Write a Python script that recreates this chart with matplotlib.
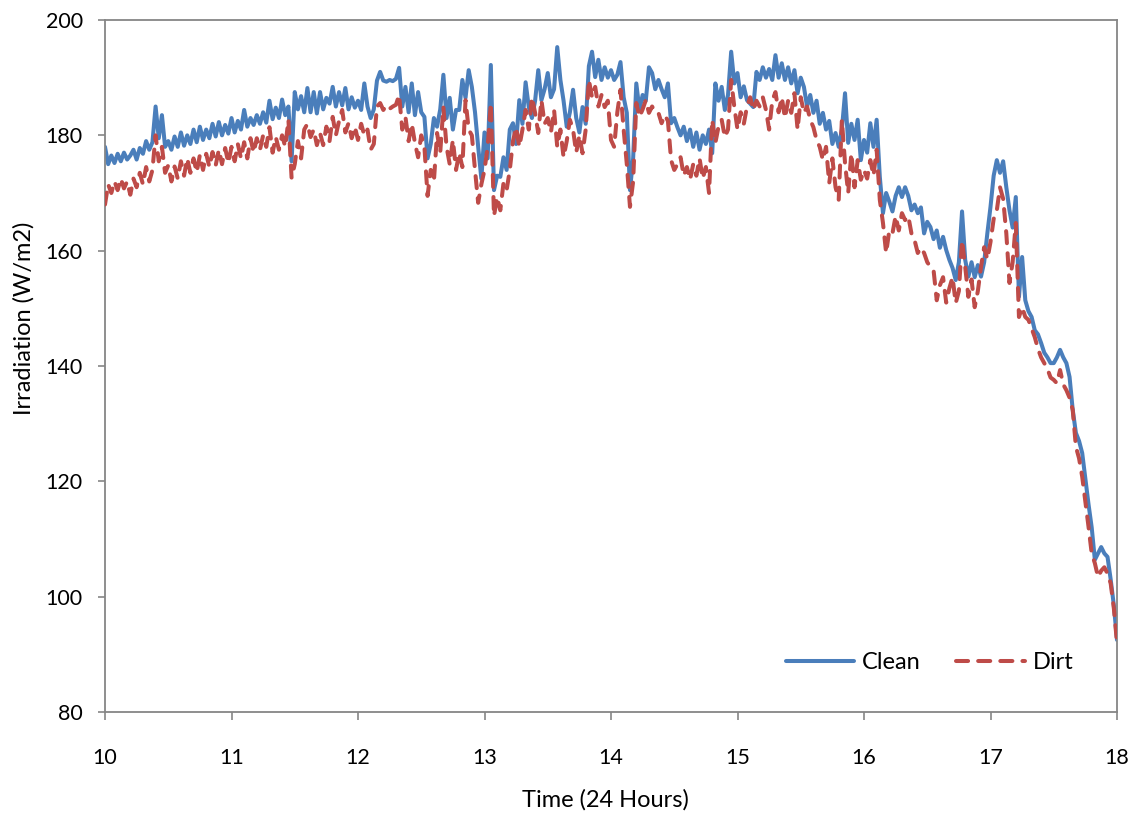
import numpy as np
import matplotlib
matplotlib.use("Agg")
import matplotlib.pyplot as plt

# Clean series: one value every 0.025 h from 10:00 to 18:00 (4 values per 0.1 h row)
clean = [
    178.0, 175.0, 176.5, 175.2,   # 10.0
    176.8, 175.5, 177.0, 175.8,   # 10.1
    176.5, 177.5, 175.8, 177.8,   # 10.2
    176.8, 179.0, 177.5, 178.8,   # 10.3
    185.0, 179.5, 183.5, 178.0,   # 10.4
    179.0, 177.5, 179.8, 178.0,   # 10.5
    180.5, 178.2, 180.0, 178.5,   # 10.6
    181.0, 178.8, 181.5, 179.2,   # 10.7
    181.0, 179.5, 182.0, 179.8,   # 10.8
    182.3, 180.0, 181.8, 180.3,   # 10.9
    183.0, 180.5, 182.5, 181.0,   # 11.0
    184.4, 181.5, 183.0, 181.8,   # 11.1
    183.5, 182.0, 184.0, 182.2,   # 11.2
    186.0, 182.8, 184.8, 183.0,   # 11.3
    186.2, 183.5, 185.0, 175.5,   # 11.4
    187.5, 184.5, 186.8, 184.0,   # 11.5
    188.2, 184.0, 187.5, 183.8,   # 11.6
    187.5, 184.5, 186.5, 185.5,   # 11.7
    188.4, 185.0, 187.5, 185.2,   # 11.8
    188.2, 184.5, 186.6, 184.8,   # 11.9
    186.0, 184.4, 189.0, 185.0,   # 12.0
    183.0, 184.5, 189.5, 191.0,   # 12.1
    189.5, 189.3, 189.6, 189.4,   # 12.2
    189.8, 191.7, 185.0, 188.4,   # 12.3
    184.0, 189.0, 183.5, 187.5,   # 12.4
    184.0, 183.2, 176.0, 178.5,   # 12.5
    183.0, 181.5, 184.5, 190.5,   # 12.6
    183.0, 186.5, 181.0, 184.4,   # 12.7
    184.4, 189.6, 186.5, 191.3,   # 12.8
    188.4, 184.0, 178.0, 172.5,   # 12.9
    180.5, 176.0, 192.2, 170.5,   # 13.0
    173.0, 172.8, 176.2, 174.0,   # 13.1
    181.0, 182.1, 178.5, 186.1,   # 13.2
    182.0, 189.2, 184.9, 183.0,   # 13.3
    186.0, 191.3, 186.1, 188.0,   # 13.4
    190.8, 186.6, 188.0, 195.3,   # 13.5
    189.6, 186.0, 181.5, 184.0,   # 13.6
    187.9, 183.0, 180.5, 184.9,   # 13.7
    182.0, 192.0, 194.5, 190.1,   # 13.8
    193.1, 189.6, 191.8, 190.0,   # 13.9
    191.3, 189.6, 190.5, 192.7,   # 14.0
    186.6, 183.9, 170.5, 176.0,   # 14.1
    189.0, 184.4, 187.0, 186.0,   # 14.2
    191.8, 190.8, 188.0, 189.6,   # 14.3
    188.0, 186.6, 189.0, 182.1,   # 14.4
    183.0, 181.4, 180.0, 181.5,   # 14.5
    179.0, 181.0, 178.0, 180.5,   # 14.6
    177.5, 180.0, 178.5, 181.0,   # 14.7
    176.9, 189.0, 186.0, 188.4,   # 14.8
    184.4, 187.0, 194.5, 189.0,   # 14.9
    190.8, 186.6, 188.5, 186.1,   # 15.0
    185.5, 184.9, 191.0, 189.6,   # 15.1
    191.8, 190.0, 191.5, 189.6,   # 15.2
    193.9, 190.0, 192.5, 189.6,   # 15.3
    191.8, 189.0, 191.3, 187.3,   # 15.4
    190.0, 188.4, 185.0, 187.0,   # 15.5
    183.9, 186.0, 182.0, 183.9,   # 15.6
    181.0, 182.5, 178.5, 180.4,   # 15.7
    178.0, 181.0, 187.3, 178.7,   # 15.8
    182.0, 179.2, 182.7, 175.7,   # 15.9
    179.2, 177.0, 182.1, 178.0,   # 16.0
    182.7, 172.8, 166.5, 170.0,   # 16.1
    168.5, 166.8, 169.5, 171.0,   # 16.2
    169.3, 171.0, 169.5, 167.0,   # 16.3
    168.0, 166.5, 167.5, 163.0,   # 16.4
    165.0, 164.1, 162.0, 163.5,   # 16.5
    160.5, 162.4, 160.1, 158.4,   # 16.6
    157.0, 154.9, 158.0, 166.8,   # 16.7
    158.4, 155.5, 158.0, 155.4,   # 16.8
    157.5, 155.5, 158.0, 163.0,   # 16.9
    167.6, 173.0, 175.7, 173.5,   # 17.0
    175.5, 171.0, 167.0, 164.0,   # 17.1
    169.3, 152.0, 158.9, 151.4,   # 17.2
    149.5, 148.5, 146.2, 145.5,   # 17.3
    144.0, 142.3, 141.5, 140.5,   # 17.4
    140.5, 141.5, 142.8, 141.5,   # 17.5
    140.5, 138.1, 132.4, 128.4,   # 17.6
    127.0, 124.9, 120.5, 116.0,   # 17.7
    112.0, 106.4, 107.5, 108.6,   # 17.8
    107.5, 106.9, 103.0, 98.5,    # 17.9
    92.5,                         # 18.0
]

# Dirt series: same time grid
dirt = [
    168.0, 171.5, 170.0, 172.0,   # 10.0
    170.5, 172.5, 170.8, 172.0,   # 10.1
    169.7, 172.5, 171.0, 173.5,   # 10.2
    171.5, 174.5, 172.0, 174.0,   # 10.3
    180.0, 175.5, 178.0, 173.5,   # 10.4
    174.8, 172.0, 174.6, 172.5,   # 10.5
    175.5, 173.0, 176.0, 173.5,   # 10.6
    176.0, 173.6, 176.6, 174.0,   # 10.7
    176.8, 174.5, 177.1, 174.8,   # 10.8
    177.5, 175.0, 177.8, 175.2,   # 10.9
    178.0, 175.5, 178.5, 176.0,   # 11.0
    178.8, 176.0, 179.5, 177.0,   # 11.1
    179.5, 177.5, 180.0, 178.0,   # 11.2
    181.4, 177.0, 179.7, 177.5,   # 11.3
    180.0, 178.0, 182.7, 172.6,   # 11.4
    175.0, 179.0, 176.0, 181.0,   # 11.5
    182.0, 179.7, 181.0, 178.3,   # 11.6
    180.4, 178.3, 181.5, 179.0,   # 11.7
    183.2, 180.0, 182.5, 184.4,   # 11.8
    180.5, 182.1, 179.5, 181.5,   # 11.9
    179.2, 182.0, 180.0, 181.0,   # 12.0
    177.5, 178.5, 185.0, 185.6,   # 12.1
    184.4, 185.2, 184.6, 185.0,   # 12.2
    185.3, 187.0, 181.0, 183.2,   # 12.3
    179.0, 182.0, 178.7, 176.2,   # 12.4
    180.0, 178.0, 169.5, 174.0,   # 12.5
    172.0, 180.4, 177.0, 184.9,   # 12.6
    178.0, 175.0, 179.2, 174.0,   # 12.7
    177.0, 174.5, 186.1, 181.0,   # 12.8
    180.0, 174.0, 168.3, 171.5,   # 12.9
    174.0, 178.0, 185.6, 166.0,   # 13.0
    169.3, 167.0, 171.7, 170.5,   # 13.1
    174.0, 179.0, 181.4, 178.0,   # 13.2
    181.0, 184.4, 181.0, 186.6,   # 13.3
    183.9, 180.4, 186.1, 182.0,   # 13.4
    183.0, 180.5, 184.4, 178.0,   # 13.5
    181.0, 176.2, 179.0, 182.7,   # 13.6
    181.0, 177.0, 180.0, 176.9,   # 13.7
    181.0, 189.6, 186.6, 188.4,   # 13.8
    185.0, 187.0, 184.9, 186.0,   # 13.9
    179.2, 178.0, 184.0, 187.9,   # 14.0
    181.0, 175.0, 167.6, 172.0,   # 14.1
    185.6, 183.2, 184.5, 186.1,   # 14.2
    183.9, 185.0, 184.0, 183.9,   # 14.3
    182.1, 183.5, 182.5, 175.7,   # 14.4
    174.0, 175.0, 176.2, 173.0,   # 14.5
    174.5, 172.3, 175.0, 173.0,   # 14.6
    176.0, 172.5, 174.5, 170.0,   # 14.7
    182.7, 178.7, 181.5, 182.7,   # 14.8
    179.7, 181.0, 189.6, 184.9,   # 14.9
    181.0, 184.0, 182.0, 185.0,   # 15.0
    186.6, 184.4, 186.0, 185.0,   # 15.1
    186.6, 184.4, 181.0, 186.0,   # 15.2
    187.5, 184.0, 186.6, 183.0,   # 15.3
    186.0, 183.9, 187.3, 181.0,   # 15.4
    186.6, 183.9, 185.0, 182.7,   # 15.5
    181.4, 179.2, 178.0, 175.7,   # 15.6
    178.0, 171.7, 176.0, 171.0,   # 15.7
    168.8, 182.7, 175.2, 170.0,   # 15.8
    176.9, 171.0, 175.7, 172.3,   # 15.9
    174.0, 172.5, 175.7, 173.0,   # 16.0
    177.5, 168.8, 164.8, 159.6,   # 16.1
    163.5, 163.0, 166.0, 163.5,   # 16.2
    166.5, 165.3, 166.0, 163.0,   # 16.3
    161.8, 159.6, 160.5, 159.6,   # 16.4
    158.0, 157.2, 156.6, 151.4,   # 16.5
    154.0, 155.4, 151.0, 153.5,   # 16.6
    155.4, 150.9, 153.0, 161.8,   # 16.7
    157.2, 152.0, 155.0, 150.2,   # 16.8
    153.0, 157.2, 160.6, 158.5,   # 16.9
    161.5, 165.5, 167.0, 171.0,   # 17.0
    169.0, 163.0, 154.4, 158.0,   # 17.1
    164.8, 148.5, 150.2, 148.5,   # 17.2
    148.0, 146.5, 145.0, 143.0,   # 17.3
    141.5, 140.5, 139.5, 138.0,   # 17.4
    137.6, 137.0, 139.3, 136.8,   # 17.5
    135.8, 134.5, 132.4, 126.0,   # 17.6
    124.0, 120.8, 116.5, 112.1,   # 17.7
    107.5, 105.8, 103.4, 104.5,   # 17.8
    105.1, 104.0, 102.3, 98.0,    # 17.9
    92.0,                         # 18.0
]

x_ticks = [10, 11, 12, 13, 14, 15, 16, 17, 18]
y_ticks = [80, 100, 120, 140, 160, 180, 200]

t_clean = np.linspace(10, 18, len(clean))
t_dirt = np.linspace(10, 18, len(dirt))

plt.rcParams['font.family'] = ['Lato', 'DejaVu Sans']

fig = plt.figure(figsize=(11.3, 8.15), dpi=100)
ax = fig.add_axes([105/1130, 1 - 712/815, (1117 - 105)/1130, (712 - 20)/815])

blue = '#4A7EBB'
red = '#BE4B48'
ax.plot(t_clean, clean, color=blue, lw=2.9, solid_joinstyle='round',
        solid_capstyle='round', label='Clean', zorder=2)
ax.plot(t_dirt, dirt, color=red, lw=2.9, dashes=(3.0, 2.5),
        dash_capstyle='round', dash_joinstyle='round', label='Dirt', zorder=3)

ax.set_xlim(10, 18)
ax.set_ylim(80, 200)
ax.set_xticks(x_ticks)
ax.set_yticks(y_ticks)
ax.set_xticklabels([str(v) for v in x_ticks])
ax.set_yticklabels([str(v) for v in y_ticks])

for s in ax.spines.values():
    s.set_color('#868686')
    s.set_linewidth(1.3)
ax.tick_params(axis='x', direction='out', length=6, width=1.2, color='#868686',
               labelsize=15.5, pad=20)
ax.tick_params(axis='y', direction='out', length=5, width=1.2, color='#868686',
               labelsize=15.5, pad=11)

leg = ax.legend(loc='center right', bbox_to_anchor=(0.957, 0.071), ncol=2,
                frameon=False, fontsize=17, handlelength=2.9,
                handletextpad=0.34, columnspacing=1.5, borderpad=0,
                borderaxespad=0)

fig.text(0.021, 1 - 318/815, 'Irradiation (W/m2)', rotation=90,
         ha='center', va='center', fontsize=17)
fig.text(605/1130, 1 - 800/815, 'Time (24 Hours)', ha='center', va='center',
         fontsize=17)

fig.savefig('out.png', dpi=100)
